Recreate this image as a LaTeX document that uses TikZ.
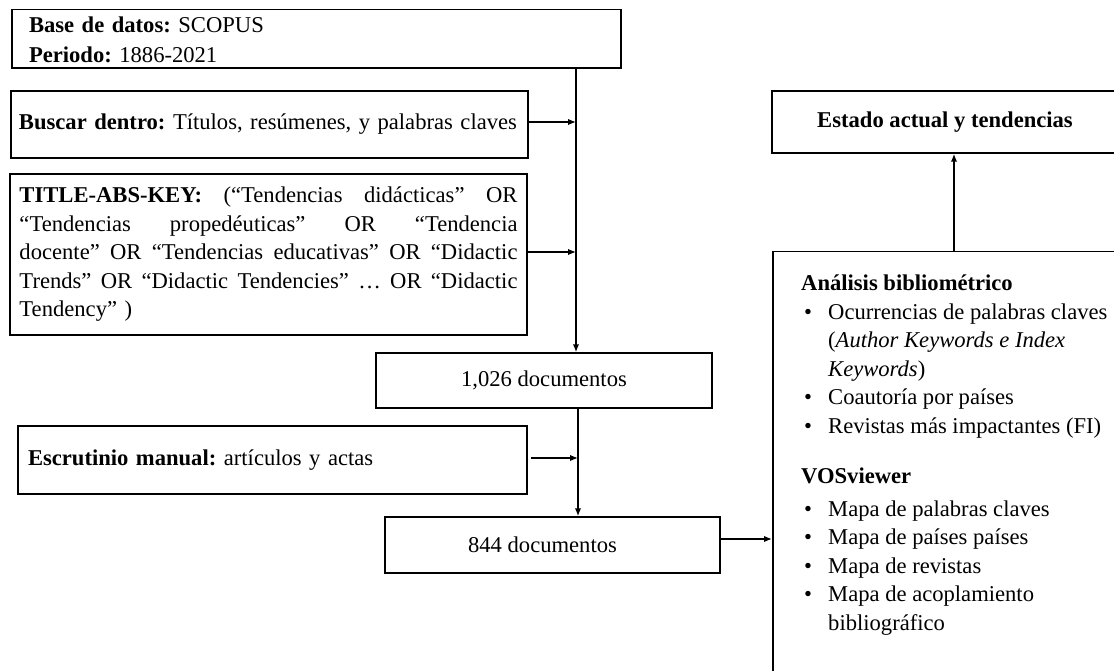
\documentclass[tikz,border=0pt]{standalone}
\usepackage{fontspec}
\setmainfont{Liberation Serif}
\usetikzlibrary{arrows.meta}
\frenchspacing
\tikzset{
  txt/.style={font=\fontsize{22.6}{28.5}\selectfont},
  box/.style={draw, line width=1.5pt, inner ysep=0pt, txt},
  lbox/.style={box, align=left},
  cbox/.style={box, align=center},
  conn/.style={line width=1.5pt, -{Latex[length=8pt,width=6.5pt]}},
  plain/.style={line width=1.5pt}
}
\newcommand{\bul}{\makebox[27pt][l]{\hspace{3pt}\textbullet}}
\newcommand{\jline}[1]{\leavevmode\hbox to 498pt{#1}}
\begin{document}
\begin{tikzpicture}[x=1pt,y=-1pt]
\useasboundingbox (0,0) rectangle (1114,671);
\fill[white] (0,0) rectangle (1114,671);
% left column
\node[lbox, minimum width=609pt, minimum height=58pt, text width=575pt, inner xsep=17pt] (b1) at (316.5,39) {\raisebox{-3pt}[\height][\depth]{\begin{tabular}{@{}l@{}}\textbf{Base de datos:} SCOPUS\\[1.5pt]\textbf{Periodo:} 1886-2021\end{tabular}}};
\node[lbox, minimum width=517pt, minimum height=67pt, text width=501pt, inner xsep=8pt] (b2) at (269.5,124.5) {\raisebox{2pt}{\textbf{Buscar dentro:} Títulos, resúmenes, y palabras claves}};
\node[lbox, minimum width=517pt, minimum height=161pt, text width=498pt, inner xsep=9.5pt] (b3) at (268.5,254.5) {%
\jline{\textbf{TITLE-ABS-KEY:}\hfill(“Tendencias\hfill didácticas”\hfill OR}\\
\jline{“Tendencias\hfill propedéuticas”\hfill OR\hfill “Tendencia}\\
\jline{docente”\hfill OR\hfill “Tendencias\hfill educativas”\hfill OR\hfill “Didactic}\\
\jline{Trends”\hfill OR\hfill “Didactic\hfill Tendencies”\hfill …\hfill OR\hfill “Didactic}\\
Tendency” )};
\node[cbox, minimum width=336pt, minimum height=55pt] (n1) at (544,380.5) {1,026 documentos};
\node[lbox, minimum width=509pt, minimum height=68pt, text width=489pt, inner xsep=10pt] (b4) at (272.5,460) {\textbf{Escrutinio manual:} artículos y actas};
\node[cbox, minimum width=335pt, minimum height=56pt] (n2) at (552.5,545) {\hspace{-20pt}844 documentos};
% right column
\node[cbox, minimum width=364pt, minimum height=62pt] (st) at (954,122) {\hspace{-18pt}\textbf{Estado actual y tendencias}};
\node[draw, line width=1.5pt, minimum width=364pt, minimum height=460pt, anchor=north west] (ab) at (772,251) {};
\node[anchor=north west, align=left, inner sep=0pt, txt] (abt) at (801,275) {%
\textbf{Análisis bibliométrico}\\
\bul Ocurrencias de palabras claves\\
\hspace{27pt}(\textit{Author Keywords e Index}\\
\hspace{27pt}\textit{Keywords})\\
\bul Coautoría por países\\
\bul Revistas más impactantes (FI)\\[22pt]
\textbf{VOSviewer}\\[4pt]
\bul Mapa de palabras claves\\
\bul Mapa de países países\\
\bul Mapa de revistas\\
\bul Mapa de acoplamiento\\
\hspace{27pt}bibliográfico};
% connectors
\coordinate (j1) at (576,122);
\coordinate (j2) at (576,252);
\coordinate (j3) at (578,458);
\draw[plain] (b1.south -| j1) -- (j1);
\draw[conn] (j1) -- (j1 |- n1.north);
\draw[conn] (b2.east |- j1) -- (j1);
\draw[conn] (b3.east |- j2) -- (j2);
\draw[conn] (j3 |- n1.south) -- (j3 |- n2.north);
\draw[conn] (b4.east |- j3) ++(3,0) -- (j3);
\draw[conn] (n2.east |- 0,539) -- (ab.west |- 0,539);
\draw[conn] (ab.north -| st) -- (st.south);
\end{tikzpicture}
\end{document}
